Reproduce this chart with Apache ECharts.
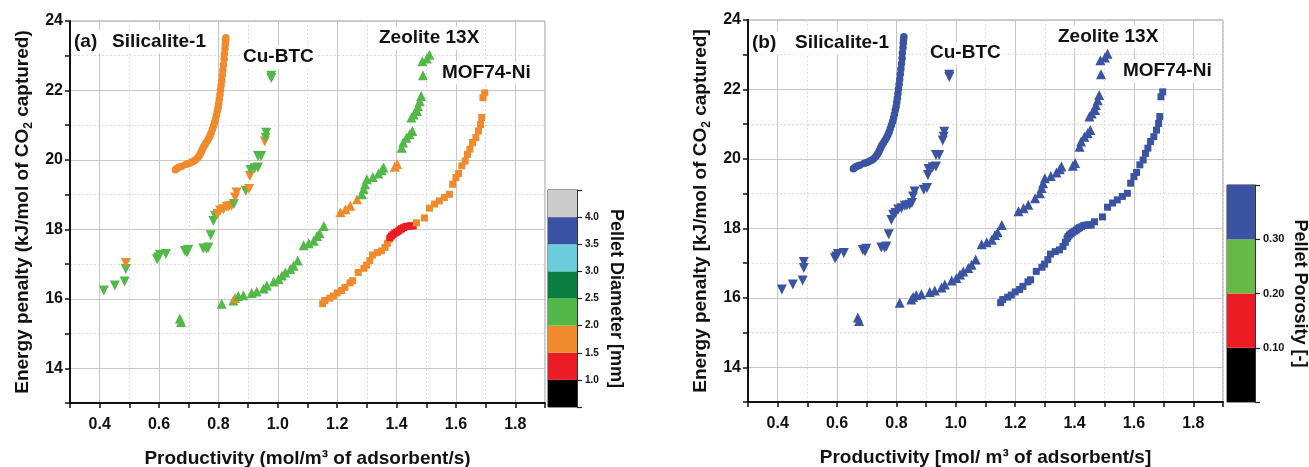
<!DOCTYPE html>
<html><head><meta charset="utf-8">
<script src="https://cdn.jsdelivr.net/npm/echarts@6/dist/echarts.min.js"></script>
<style>html,body{margin:0;padding:0;background:#fff}#c{width:1309px;height:467px}</style>
</head><body><div id="c"></div>
<script>
// ---------------- DATA ----------------
const materials = ['Silicalite-1', 'Cu-BTC', 'Zeolite 13X', 'MOF74-Ni'];
const materialPorosity = [0.35, 0.35, 0.35, 0.35];

// Silicalite-1 (circles)
const silX = [0.655,0.660,0.665,0.671,0.676,0.690,0.697,0.704,0.711,0.718,0.724,0.730,0.735,0.739,0.743,0.747,0.751,0.756,0.761,0.766,0.771,0.775,0.779,0.783,0.787,0.790,0.793,0.796,0.799,0.801,0.803,0.805,0.807,0.809,0.811,0.813,0.815,0.817,0.819,0.820,0.822,0.823,0.824,0.825];
const silY = [19.72,19.75,19.78,19.80,19.82,19.87,19.89,19.91,19.94,19.97,20.01,20.06,20.12,20.18,20.25,20.32,20.39,20.46,20.53,20.60,20.68,20.77,20.87,20.97,21.07,21.17,21.28,21.40,21.51,21.63,21.75,21.88,22.01,22.15,22.29,22.44,22.59,22.74,22.90,23.05,23.20,23.33,23.44,23.52];
const silD = [1.75,1.75,1.75,1.75,1.75,1.75,1.75,1.75,1.75,1.75,1.75,1.75,1.75,1.75,1.75,1.75,1.75,1.75,1.75,1.75,1.75,1.75,1.75,1.75,1.75,1.75,1.75,1.75,1.75,1.75,1.75,1.75,1.75,1.75,1.75,1.75,1.75,1.75,1.75,1.75,1.75,1.75,1.75,1.75];

// Cu-BTC (down triangles)
const cuX = [0.414,0.451,0.484,0.488,0.488,0.593,0.597,0.603,0.623,0.687,0.694,0.698,0.749,0.760,0.766,0.774,0.783,0.789,0.797,0.806,0.817,0.828,0.835,0.844,0.852,0.856,0.861,0.892,0.903,0.906,0.908,0.922,0.933,0.933,0.944,0.956,0.959,0.961,0.978,0.978];
const cuY = [16.24,16.38,16.50,16.86,17.03,17.14,17.19,17.26,17.29,17.38,17.34,17.41,17.45,17.44,17.48,17.83,18.24,18.39,18.44,18.54,18.58,18.65,18.66,18.68,18.73,18.92,19.06,19.11,19.16,19.54,19.71,19.76,19.78,20.11,20.11,20.53,20.64,20.78,22.36,22.42];
const cuD = [2.25,2.25,2.25,2.25,1.75,2.25,2.25,2.25,2.25,2.25,2.25,2.25,2.25,2.25,2.25,2.25,2.25,2.25,1.75,1.75,1.75,1.75,1.75,1.75,2.25,1.75,1.75,2.25,1.75,1.75,2.25,2.25,2.25,2.25,2.25,1.75,2.25,2.25,2.25,2.25];

// Zeolite 13X (up triangles)
const zeX = [0.670,0.674,0.811,0.850,0.856,0.867,0.884,0.912,0.929,0.952,0.963,0.986,1.002,1.014,1.025,1.042,1.053,1.067,1.087,1.104,1.121,1.132,1.141,1.155,1.211,1.228,1.244,1.267,1.283,1.289,1.294,1.300,1.320,1.339,1.350,1.356,1.394,1.402,1.417,1.422,1.433,1.444,1.453,1.450,1.458,1.469,1.472,1.478,1.483,1.489,1.487,1.502,1.511];
const zeY = [15.43,15.33,15.86,15.95,16.02,16.08,16.10,16.17,16.21,16.30,16.38,16.50,16.57,16.67,16.76,16.86,16.95,17.10,17.54,17.60,17.67,17.81,17.89,18.10,18.49,18.58,18.68,18.87,19.01,19.16,19.30,19.44,19.51,19.61,19.70,19.78,19.80,19.88,20.35,20.50,20.64,20.74,20.83,21.22,21.31,21.41,21.55,21.69,21.84,22.44,22.84,22.92,23.03];
const zeD = [2.25,2.25,2.25,2.25,1.75,2.25,2.25,2.25,2.25,2.25,2.25,2.25,2.25,2.25,2.25,2.25,2.25,2.25,2.25,2.25,2.25,2.25,2.25,2.25,1.75,1.75,1.75,1.75,2.25,2.25,2.25,2.25,2.25,2.25,2.25,2.25,1.75,1.75,2.25,2.25,2.25,2.25,2.25,2.25,2.25,2.25,2.25,2.25,2.25,2.25,2.25,2.25,2.25];

// MOF74-Ni (squares)
const mofX = [1.151,1.158,1.175,1.187,1.200,1.215,1.226,1.243,1.252,1.271,1.290,1.299,1.310,1.319,1.335,1.349,1.361,1.369,1.375,1.378,1.383,1.388,1.394,1.400,1.406,1.412,1.417,1.424,1.431,1.438,1.445,1.450,1.456,1.467,1.494,1.511,1.528,1.544,1.561,1.578,1.589,1.600,1.609,1.620,1.631,1.639,1.647,1.656,1.667,1.676,1.683,1.687,1.691,1.697];
const mofY = [15.86,15.95,16.02,16.08,16.17,16.24,16.33,16.46,16.52,16.76,16.88,16.97,17.10,17.26,17.33,17.38,17.48,17.60,17.71,17.76,17.81,17.85,17.89,17.92,17.95,17.99,18.02,18.05,18.08,18.09,18.10,18.10,18.10,18.19,18.33,18.61,18.73,18.82,18.92,19.01,19.30,19.49,19.61,19.83,19.97,20.16,20.31,20.50,20.64,20.83,21.02,21.22,21.79,21.93];
const mofD = [1.75,1.75,1.75,1.75,1.75,1.75,1.75,1.75,1.75,1.75,1.75,1.75,1.75,1.75,1.75,1.75,1.75,1.75,1.75,1.25,1.25,1.25,1.25,1.25,1.25,1.25,1.25,1.25,1.25,1.25,1.25,1.25,1.25,1.75,1.75,1.75,1.75,1.75,1.75,1.75,1.75,1.75,1.75,1.75,1.75,1.75,1.75,1.75,1.75,1.75,1.75,1.75,1.75,1.75];

// colour bars
const diameterEdges = [0.5,1.0,1.5,2.0,2.5,3.0,3.5,4.0,4.5];
const diameterColors = ['#000000','#ec1c24','#f08a2c','#52b848','#0b7f3f','#6ccbdc','#3a52a4','#cccccc'];
const porosityEdges = [0,0.1,0.2,0.3,0.4];
const porosityColors = ['#000000','#ed1c24','#69b946','#3b53a3'];

// ---------------- CHART ----------------
const F = 'Liberation Sans, Arial, sans-serif';
const ink = '#111';
function colorFor(v, edges, cols) {
  for (let i = 0; i < cols.length; i++) if (v >= edges[i] && v < edges[i + 1]) return cols[i];
  return cols[cols.length - 1];
}
const pts = (x, y, d) => x.map((v, i) => [v, y[i], d[i]]);
const ptsP = (x, y, p) => x.map((v, i) => [v, y[i], p]);

const gb = {show: true, borderWidth: 1, outerBoundsMode: 'none', containLabel: false};
const grids = [
  Object.assign({left: 70, top: 21, width: 475, height: 382, borderColor: '#9a9a9a'}, gb),
  Object.assign({left: 748, top: 20, width: 475, height: 382, borderColor: '#9a9a9a'}, gb),
  Object.assign({left: 548, top: 190, width: 29, height: 217, borderColor: '#333'}, gb),
  Object.assign({left: 1227, top: 185, width: 28, height: 217, borderColor: '#333'}, gb)
];

function mainX(gi, name) {
  return [{
    gridIndex: gi, type: 'value', min: 0.3, max: 1.9, interval: 0.1,
    name: name, nameLocation: 'middle', nameGap: 46,
    nameTextStyle: {fontSize: 19, fontWeight: 'bold', fontFamily: F, color: ink},
    axisLine: {onZero: false, lineStyle: {color: ink, width: 2}},
    axisTick: {length: 5, lineStyle: {color: ink, width: 1.5}},
    axisLabel: {margin: 14, fontSize: 16, fontWeight: 'bold', fontFamily: F, color: ink,
      formatter: v => { const k = Math.round(v * 10); return k % 2 === 0 ? (k / 10).toFixed(1) : ''; }},
    splitLine: {show: true, lineStyle: {type: [2, 2], color: ['#dcdcdc', 'transparent'], width: 1}}
  }, {
    gridIndex: gi, type: 'value', min: 0.3, max: 1.9, interval: 0.1,
    axisLine: {show: false}, axisTick: {show: false}, axisLabel: {show: false},
    splitLine: {show: true, lineStyle: {color: ['transparent', '#c6c6c6'], width: 1}}
  }];
}
function mainY(gi, pre, post) {
  const name = '{t|' + pre + '}{s|2}{t|' + post + '}';
  return [{
    gridIndex: gi, type: 'value', min: 13, max: 24, interval: 1,
    name: name, nameLocation: 'middle', nameGap: 35, nameRotate: 90,
    nameTextStyle: {rich: {
      t: {fontSize: 19, fontWeight: 'bold', fontFamily: F, color: ink, lineHeight: 24, verticalAlign: 'middle'},
      s: {fontSize: 12, fontWeight: 'bold', fontFamily: F, color: ink, lineHeight: 12, verticalAlign: 'bottom'}
    }},
    axisLine: {onZero: false, lineStyle: {color: ink, width: 2}},
    axisTick: {length: 5, lineStyle: {color: ink, width: 1.5}},
    axisLabel: {margin: 7, fontSize: 16, fontWeight: 'bold', fontFamily: F, color: ink,
      formatter: v => (Math.round(v) % 2 === 0 ? String(Math.round(v)) : '')},
    splitLine: {show: true, lineStyle: {type: [2, 2], color: ['#dcdcdc', 'transparent'], width: 1}}
  }, {
    gridIndex: gi, type: 'value', min: 13, max: 24, interval: 1,
    axisLine: {show: false}, axisTick: {show: false}, axisLabel: {show: false},
    splitLine: {show: true, lineStyle: {color: ['transparent', '#c6c6c6'], width: 1}}
  }];
}

const xAxes = [
  ...mainX(0, 'Productivity (mol/m³ of adsorbent/s)'),
  ...mainX(1, 'Productivity [mol/ m³ of adsorbent/s]'),
  {gridIndex: 2, type: 'category', data: ['c'], show: false},
  {gridIndex: 3, type: 'category', data: ['c'], show: false}
];
const yAxes = [
  ...mainY(0, 'Energy penalty (kJ/mol of CO', ' captured)'),
  ...mainY(1, 'Energy penalty [kJ/mol of CO', ' captured]'),
  {gridIndex: 2, type: 'value', position: 'right', min: 0.5, max: 4.5, interval: 0.5,
    name: 'Pellet Diameter [mm]', nameLocation: 'middle', nameRotate: -90, nameGap: 30,
    nameTextStyle: {fontSize: 18, fontWeight: 'bold', fontFamily: F, color: ink},
    axisLine: {show: true, onZero: false, lineStyle: {color: '#333', width: 1}}, splitLine: {show: false},
    axisTick: {show: true, inside: false, length: 5, lineStyle: {color: '#222', width: 1.2}},
    axisLabel: {margin: 8, fontSize: 10, fontWeight: 'bold', fontFamily: F, color: ink,
      formatter: v => (v >= 0.99 && v <= 4.01 ? v.toFixed(1) : '')}},
  {gridIndex: 3, type: 'value', position: 'right', min: 0, max: 0.4, interval: 0.1,
    name: 'Pellet Porosity [-]', nameLocation: 'middle', nameRotate: -90, nameGap: 36,
    nameTextStyle: {fontSize: 18, fontWeight: 'bold', fontFamily: F, color: ink},
    axisLine: {show: true, onZero: false, lineStyle: {color: '#333', width: 1}}, splitLine: {show: false},
    axisTick: {show: true, inside: false, length: 5, lineStyle: {color: '#222', width: 1.2}},
    axisLabel: {margin: 8, fontSize: 11, fontWeight: 'bold', fontFamily: F, color: ink,
      formatter: v => (v > 0.05 && v < 0.35 ? v.toFixed(2) : '')}}
];

const shapes = [
  {sym: 'circle', size: 7.5, rot: 0},
  {sym: 'triangle', size: 10, rot: 180},
  {sym: 'triangle', size: 10, rot: 0},
  {sym: 'rect', size: 7, rot: 0}
];
const leftData = [pts(silX, silY, silD), pts(cuX, cuY, cuD), pts(zeX, zeY, zeD), pts(mofX, mofY, mofD)];
const rightData = [ptsP(silX, silY, materialPorosity[0]), ptsP(cuX, cuY, materialPorosity[1]),
                   ptsP(zeX, zeY, materialPorosity[2]), ptsP(mofX, mofY, materialPorosity[3])];

const series = [];
materials.forEach((m, i) => {
  series.push({name: m + ' (a)', type: 'scatter', xAxisIndex: 0, yAxisIndex: 0,
    symbol: shapes[i].sym, symbolSize: shapes[i].size, symbolRotate: shapes[i].rot,
    data: leftData[i],
    itemStyle: {opacity: 1, color: p => colorFor(p.value[2], diameterEdges, diameterColors)}});
  series.push({name: m + ' (b)', type: 'scatter', xAxisIndex: 2, yAxisIndex: 2,
    symbol: shapes[i].sym, symbolSize: shapes[i].size, symbolRotate: shapes[i].rot,
    data: rightData[i],
    itemStyle: {opacity: 1, color: p => colorFor(p.value[2], porosityEdges, porosityColors)}});
});
// colour bars as stacked bars
series.push({type: 'bar', xAxisIndex: 4, yAxisIndex: 4, stack: 'd', barWidth: '100%', silent: true,
  data: [diameterEdges[0]], itemStyle: {color: 'transparent'}});
diameterColors.forEach((c, i) => series.push({type: 'bar', xAxisIndex: 4, yAxisIndex: 4, stack: 'd',
  barWidth: '100%', silent: true, data: [diameterEdges[i + 1] - diameterEdges[i]], itemStyle: {color: c}}));
porosityColors.forEach((c, i) => series.push({type: 'bar', xAxisIndex: 5, yAxisIndex: 5, stack: 'p',
  barWidth: '100%', silent: true, data: [porosityEdges[i + 1] - porosityEdges[i]], itemStyle: {color: c}}));

function lbl(text, x, y) {
  return {type: 'text', x: x - 3, y: y, z: 100, style: {text: text, fontSize: 19, fontWeight: 'bold', fontFamily: F,
    fill: ink, verticalAlign: 'middle', backgroundColor: '#fff', padding: [2, 3]}};
}
const graphic = [
  lbl('(a)', 74, 42), lbl('Silicalite-1', 112, 42), lbl('Cu-BTC', 243, 57),
  lbl('Zeolite 13X', 379, 38), lbl('MOF74-Ni', 442, 73),
  lbl('(b)', 752, 43), lbl('Silicalite-1', 795, 43), lbl('Cu-BTC', 930, 53),
  lbl('Zeolite 13X', 1058, 37), lbl('MOF74-Ni', 1123, 71)
];

const chart = echarts.init(document.getElementById('c'), null, {renderer: 'canvas'});
chart.setOption({
  animation: false, backgroundColor: '#fff',
  grid: grids, xAxis: xAxes, yAxis: yAxes, series: series, graphic: graphic
});
</script></body></html>
